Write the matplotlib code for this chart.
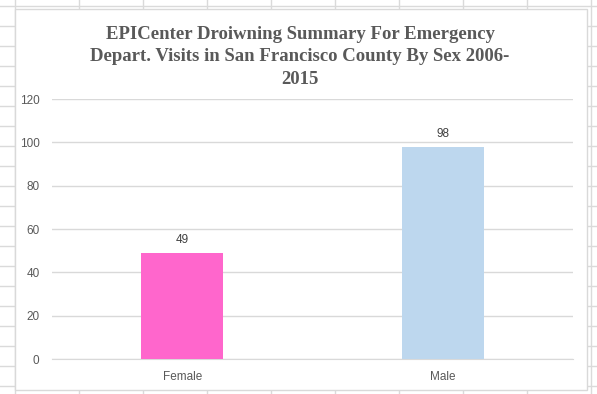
import matplotlib.pyplot as plt
from matplotlib.lines import Line2D
from matplotlib.patches import Rectangle

# --- data ---
categories = ["Female", "Male"]
visits = [49, 98]
bar_colors = ["#FF66CC", "#BDD7EE"]
y_ticks = [0, 20, 40, 60, 80, 100, 120]
title = ("EPICenter Droiwning Summary For Emergency\n"
         "Depart. Visits in San Francisco County By Sex 2006-\n"
         "2015")

W, H = 597, 394
fig = plt.figure(figsize=(W / 100, H / 100), dpi=100)
fig.patch.set_facecolor("white")

# spreadsheet cell grid behind the chart
grid_col = "#DADADA"
for x in range(15, W, 64):
    fig.add_artist(Line2D([x / W, x / W], [0, 1], color=grid_col, lw=1, zorder=0))
for y in range(6, H, 20):
    fig.add_artist(Line2D([0, 1], [1 - y / H, 1 - y / H], color=grid_col, lw=1, zorder=0))

# chart box
fig.add_artist(Rectangle((15 / W, 1 - 390 / H), (587 - 15) / W, (390 - 9) / H,
                         facecolor="white", edgecolor="#D9D9D9", lw=1, zorder=1))

ax = fig.add_axes([52 / W, 1 - 359 / H, (573 - 52) / W, (359 - 99) / H], zorder=2)
ax.patch.set_alpha(0)

x = range(len(categories))
bars = ax.bar(x, visits, width=0.315, color=bar_colors, zorder=3)
for xi, v in zip(x, visits):
    ax.text(xi, v + 3, str(v), ha="center", va="bottom", fontsize=8.5,
            color="#404040", family="Liberation Sans")

ax.set_xlim(-0.5, len(categories) - 0.5)
ax.set_ylim(0, 120)
ax.set_yticks(y_ticks)
ax.set_xticks(list(x))
ax.set_xticklabels(categories)
ax.yaxis.grid(True, color="#D9D9D9", lw=1)
ax.set_axisbelow(True)
for s in ["top", "right", "left"]:
    ax.spines[s].set_visible(False)
ax.spines["bottom"].set_color("#D9D9D9")
ax.tick_params(length=0, labelsize=8.5, labelcolor="#595959")
ax.tick_params(axis="y", pad=9)
ax.tick_params(axis="x", pad=9)
for lab in ax.get_xticklabels() + ax.get_yticklabels():
    lab.set_family("Liberation Sans")

fig.text(300 / W, 1 - 26 / H, title, ha="center", va="top", fontsize=13.5,
         fontweight="bold", family="Liberation Serif", color="#595959",
         linespacing=1.42, zorder=3)

fig.savefig("out.png", dpi=100)
